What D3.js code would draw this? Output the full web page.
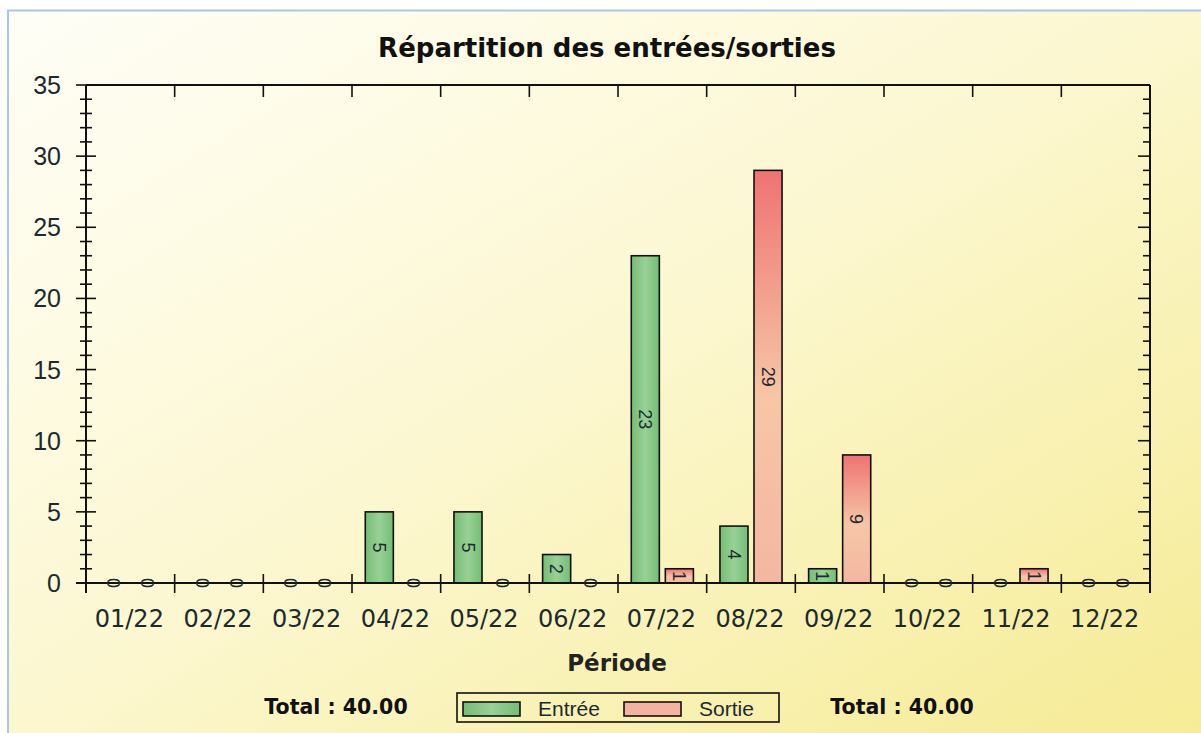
<!DOCTYPE html>
<meta charset="utf-8">
<title>Répartition des entrées/sorties</title>
<script src="https://d3js.org/d3.v7.min.js"></script>
<style>
body { margin: 0; background: #fff; }
svg { display: block; }
</style>

<div id="chart"></div>
<script>
// data
const periods = ["01/22","02/22","03/22","04/22","05/22","06/22","07/22","08/22","09/22","10/22","11/22","12/22"];
const entree = [0, 0, 0, 5, 5, 2, 23, 4, 1, 0, 0, 0];
const sortie = [0, 0, 0, 0, 0, 0, 1, 29, 9, 0, 1, 0];
const seriesNames = ["Entrée", "Sortie"];
const yTicks = [0, 5, 10, 15, 20, 25, 30, 35];

const W = 1201, H = 733;
const plot = {left: 86, right: 1150, top: 85, bottom: 583};

const svg = d3.select("#chart")
    .append("svg")
    .attr("width", W)
    .attr("height", H);

const defs = svg.append("defs");

// page background
const bg = defs.append("linearGradient").attr("id", "bg")
    .attr("x1", 0).attr("y1", 0).attr("x2", 1).attr("y2", 1);
bg.append("stop").attr("offset", "0%").attr("stop-color", "#fffef7");
bg.append("stop").attr("offset", "45%").attr("stop-color", "#fcf8d4");
bg.append("stop").attr("offset", "100%").attr("stop-color", "#f6eb95");

const gGreen = defs.append("linearGradient").attr("id", "green")
    .attr("x1", 0).attr("y1", 0).attr("x2", 1).attr("y2", 0);
gGreen.append("stop").attr("offset", "0%").attr("stop-color", "#74bd74");
gGreen.append("stop").attr("offset", "50%").attr("stop-color", "#98d196");
gGreen.append("stop").attr("offset", "100%").attr("stop-color", "#74bd74");

const gRed = defs.append("linearGradient").attr("id", "red")
    .attr("x1", 0).attr("y1", 0).attr("x2", 0).attr("y2", 1);
gRed.append("stop").attr("offset", "0%").attr("stop-color", "#ef7373");
gRed.append("stop").attr("offset", "55%").attr("stop-color", "#f6c6a6");
gRed.append("stop").attr("offset", "100%").attr("stop-color", "#f4b7a2");

svg.append("rect")
    .attr("x", 8).attr("y", 10)
    .attr("width", W - 8).attr("height", H - 10)
    .attr("fill", "url(#bg)");
svg.append("path")
    .attr("d", `M8,${H} V10.5 H${W}`)
    .attr("fill", "none")
    .attr("stroke", "#a9c6e6")
    .attr("stroke-width", 2);

// scales
const x = d3.scaleBand()
    .domain(periods)
    .range([plot.left, plot.right]);
const xInner = d3.scaleBand()
    .domain(seriesNames)
    .range([0, x.bandwidth()])
    .paddingInner(0.176)
    .paddingOuter(0.39);
const y = d3.scaleLinear()
    .domain([0, 35])
    .range([plot.bottom, plot.top]);

const textColor = "#1c2a30";

// title
svg.append("text")
    .attr("x", 607).attr("y", 57)
    .attr("text-anchor", "middle")
    .style("font-family", "'DejaVu Sans', Verdana, sans-serif")
    .style("font-weight", "bold")
    .style("font-size", "26px")
    .attr("fill", "#111")
    .text("Répartition des entrées/sorties");

// bars
const rows = periods.map((p, i) => [
    {period: p, key: "Entrée", value: entree[i]},
    {period: p, key: "Sortie", value: sortie[i]}
]).flat();

svg.append("g")
    .selectAll("rect")
    .data(rows.filter(d => d.value > 0))
    .join("rect")
    .attr("x", d => x(d.period) + xInner(d.key))
    .attr("y", d => y(d.value))
    .attr("width", xInner.bandwidth())
    .attr("height", d => y(0) - y(d.value))
    .attr("fill", d => d.key == "Entrée" ? "url(#green)" : "url(#red)")
    .attr("stroke", "#111")
    .attr("stroke-width", 1.6);

// axes lines
const axes = svg.append("g").attr("stroke", "#111").attr("fill", "none");
axes.append("line")
    .attr("x1", plot.left - 10).attr("x2", plot.right)
    .attr("y1", y(0)).attr("y2", y(0))
    .attr("stroke-width", 2);
axes.append("line")
    .attr("x1", plot.left).attr("x2", plot.right)
    .attr("y1", plot.top).attr("y2", plot.top)
    .attr("stroke-width", 2);
axes.append("line")
    .attr("x1", plot.left).attr("x2", plot.left)
    .attr("y1", plot.top).attr("y2", y(0) + 10)
    .attr("stroke-width", 2);
axes.append("line")
    .attr("x1", plot.right).attr("x2", plot.right)
    .attr("y1", plot.top).attr("y2", y(0) + 10)
    .attr("stroke-width", 2);

// y ticks: major every 5, minor every 1
const minor = d3.range(0, 36).filter(v => v % 5 != 0);
axes.selectAll(".ymaj")
    .data(yTicks)
    .join("line")
    .attr("x1", plot.left - 10).attr("x2", plot.left + 10)
    .attr("y1", d => y(d)).attr("y2", d => y(d))
    .attr("stroke-width", 1.6);
axes.selectAll(".ymin")
    .data(minor)
    .join("line")
    .attr("x1", plot.left - 6).attr("x2", plot.left + 6)
    .attr("y1", d => y(d)).attr("y2", d => y(d))
    .attr("stroke-width", 1.6);
axes.selectAll(".rmaj")
    .data(yTicks)
    .join("line")
    .attr("x1", plot.right - 12).attr("x2", plot.right)
    .attr("y1", d => y(d)).attr("y2", d => y(d))
    .attr("stroke-width", 1.6);
axes.selectAll(".rmin")
    .data(minor)
    .join("line")
    .attr("x1", plot.right - 7).attr("x2", plot.right)
    .attr("y1", d => y(d)).attr("y2", d => y(d))
    .attr("stroke-width", 1.6);

// category separators, bottom and top
const seps = periods.map(p => x(p)).concat([plot.right]);
axes.selectAll(".bsep")
    .data(seps)
    .join("line")
    .attr("x1", d => d).attr("x2", d => d)
    .attr("y1", y(0) - 9).attr("y2", y(0) + 10)
    .attr("stroke-width", 1.6);
axes.selectAll(".tsep")
    .data(seps.slice(1, -1))
    .join("line")
    .attr("x1", d => d).attr("x2", d => d)
    .attr("y1", plot.top).attr("y2", plot.top + 12)
    .attr("stroke-width", 1.6);

// y labels
svg.append("g")
    .selectAll("text")
    .data(yTicks)
    .join("text")
    .attr("x", 61)
    .attr("y", d => y(d) + 9)
    .attr("text-anchor", "end")
    .style("font-family", "'Liberation Sans', Arial, sans-serif")
    .style("font-size", "25px")
    .attr("fill", textColor)
    .text(d => d);

// x labels
svg.append("g")
    .selectAll("text")
    .data(periods)
    .join("text")
    .attr("x", d => x(d) + x.bandwidth() / 2 - 1)
    .attr("y", 627)
    .attr("text-anchor", "middle")
    .style("font-family", "'DejaVu Sans', Tahoma, sans-serif")
    .style("font-size", "24px")
    .attr("fill", textColor)
    .text(d => d);

// value labels, rotated
svg.append("g")
    .selectAll("text")
    .data(rows)
    .join("text")
    .attr("transform", d => {
        const cx = x(d.period) + xInner(d.key) + xInner.bandwidth() / 2;
        const cy = d.value > 0 ? (y(0) + y(d.value)) / 2 : y(0);
        return `translate(${cx},${cy}) rotate(90)`;
    })
    .attr("text-anchor", "middle")
    .attr("dy", "0.35em")
    .style("font-family", "'Liberation Sans', Arial, sans-serif")
    .style("font-size", "18px")
    .attr("fill", textColor)
    .text(d => d.value);

// axis title
svg.append("text")
    .attr("x", 617).attr("y", 671)
    .attr("text-anchor", "middle")
    .style("font-family", "'DejaVu Sans', Verdana, sans-serif")
    .style("font-weight", "bold")
    .style("font-size", "23px")
    .attr("fill", "#222")
    .text("Période");

// totals
const fmt = d3.format(".2f");
const totals = [
    {x: 336, v: d3.sum(entree)},
    {x: 902, v: d3.sum(sortie)}
];
svg.append("g")
    .selectAll("text")
    .data(totals)
    .join("text")
    .attr("x", d => d.x).attr("y", 714)
    .attr("text-anchor", "middle")
    .style("font-family", "'DejaVu Sans', Verdana, sans-serif")
    .style("font-weight", "bold")
    .style("font-size", "20.5px")
    .attr("fill", "#111")
    .text(d => "Total : " + fmt(d.v));

// legend
const legend = svg.append("g");
legend.append("rect")
    .attr("x", 457).attr("y", 693)
    .attr("width", 322).attr("height", 29)
    .attr("fill", "none")
    .attr("stroke", "#111")
    .attr("stroke-width", 1.6);
const legendItems = [
    {name: seriesNames[0], fill: "url(#green)", sx: 463},
    {name: seriesNames[1], fill: "#f4b2a0", sx: 624}
];
legend.selectAll(".sw")
    .data(legendItems)
    .join("rect")
    .attr("x", d => d.sx).attr("y", 702)
    .attr("width", 57).attr("height", 14)
    .attr("fill", d => d.fill)
    .attr("stroke", "#111")
    .attr("stroke-width", 1.6);
legend.selectAll("text")
    .data(legendItems)
    .join("text")
    .attr("x", d => d.sx + 75).attr("y", 716)
    .style("font-family", "'Liberation Sans', Arial, sans-serif")
    .style("font-size", "21px")
    .attr("fill", textColor)
    .text(d => d.name);
</script>
